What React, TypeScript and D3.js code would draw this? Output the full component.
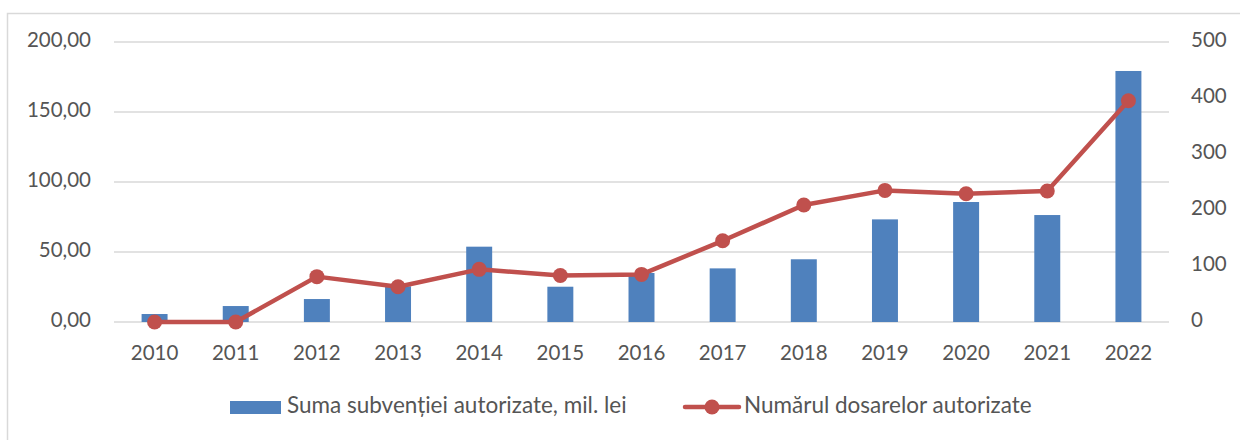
import React, { useEffect, useRef } from 'react';
import * as d3 from 'd3';

const years = ['2010', '2011', '2012', '2013', '2014', '2015', '2016', '2017', '2018', '2019', '2020', '2021', '2022'];
const subventie = [5.7, 11.4, 16.4, 25.5, 53.8, 25.2, 35.0, 38.3, 44.8, 73.3, 85.7, 76.4, 179.3];
const dosare = [0, 0, 81, 63, 94, 83, 85, 145, 209, 235, 229, 234, 395];
const leftTicks = [0, 50, 100, 150, 200];
const rightTicks = [0, 100, 200, 300, 400, 500];
const legendBar = 'Suma subvenției autorizate, mil. lei';
const legendLine = 'Numărul dosarelor autorizate';

const W = 1240;
const H = 440;
const FONT = 'Lato, "Open Sans", sans-serif';
const TEXT = '#555555';
const BLUE = '#4f81bd';
const RED = '#c0504d';
const GRID = '#d9d9d9';

export default function App() {
  const ref = useRef<SVGSVGElement>(null);

  useEffect(() => {
    const svg = d3.select(ref.current);
    svg.selectAll('*').remove();

    const x0 = 114, x1 = 1169, yTop = 42, yBot = 322;

    const x = d3.scaleBand<string>().domain(years).range([x0, x1]).paddingInner(0.68).paddingOuter(0.34);
    const yL = d3.scaleLinear().domain([0, 200]).range([yBot, yTop]);
    const yR = d3.scaleLinear().domain([0, 500]).range([yBot, yTop]);
    const cx = (d: string) => (x(d) ?? 0) + x.bandwidth() / 2;

    // chart frame
    svg.append('rect')
      .attr('x', 7.5).attr('y', 13.5)
      .attr('width', W).attr('height', H)
      .attr('fill', '#fff').attr('stroke', GRID).attr('stroke-width', 1.5);

    // gridlines
    svg.append('g')
      .selectAll('line')
      .data(leftTicks)
      .join('line')
      .attr('x1', x0).attr('x2', x1)
      .attr('y1', d => yL(d)).attr('y2', d => yL(d))
      .attr('stroke', GRID).attr('stroke-width', 1.5);

    // left axis labels
    svg.append('g')
      .selectAll('text')
      .data(leftTicks)
      .join('text')
      .attr('x', 91).attr('y', d => yL(d))
      .attr('text-anchor', 'end').attr('dominant-baseline', 'middle')
      .attr('font-family', FONT).attr('font-size', 20.5).attr('fill', TEXT)
      .text(d => d3.format('.2f')(d).replace('.', ','));

    // right axis labels
    svg.append('g')
      .selectAll('text')
      .data(rightTicks)
      .join('text')
      .attr('x', 1191).attr('y', d => yR(d))
      .attr('text-anchor', 'start').attr('dominant-baseline', 'middle')
      .attr('font-family', FONT).attr('font-size', 20.5).attr('fill', TEXT)
      .text(d => String(d));

    // category labels
    svg.append('g')
      .selectAll('text')
      .data(years)
      .join('text')
      .attr('x', d => cx(d)).attr('y', 355)
      .attr('text-anchor', 'middle').attr('dominant-baseline', 'middle')
      .attr('font-family', FONT).attr('font-size', 20.5).attr('fill', TEXT)
      .text(d => d);

    // bars
    svg.append('g')
      .selectAll('rect')
      .data(subventie)
      .join('rect')
      .attr('x', (_, i) => x(years[i]) ?? 0)
      .attr('width', x.bandwidth())
      .attr('y', d => yL(d))
      .attr('height', d => yBot - yL(d))
      .attr('fill', BLUE);

    // line
    const line = d3.line<number>()
      .x((_, i) => cx(years[i]))
      .y(d => yR(d));
    svg.append('path')
      .datum(dosare)
      .attr('d', line)
      .attr('fill', 'none')
      .attr('stroke', RED)
      .attr('stroke-width', 4.5)
      .attr('stroke-linejoin', 'round')
      .attr('stroke-linecap', 'round');

    svg.append('g')
      .selectAll('circle')
      .data(dosare)
      .join('circle')
      .attr('cx', (_, i) => cx(years[i]))
      .attr('cy', d => yR(d))
      .attr('r', 7.5)
      .attr('fill', RED);

    // legend
    const ly = 407;
    svg.append('rect')
      .attr('x', 230).attr('y', 401).attr('width', 51).attr('height', 13)
      .attr('fill', BLUE);
    svg.append('text')
      .attr('x', 287).attr('y', ly)
      .attr('dominant-baseline', 'middle')
      .attr('font-family', FONT).attr('font-size', 22.5).attr('fill', TEXT)
      .text(legendBar);

    svg.append('line')
      .attr('x1', 685).attr('x2', 739).attr('y1', ly).attr('y2', ly)
      .attr('stroke', RED).attr('stroke-width', 4.5).attr('stroke-linecap', 'round');
    svg.append('circle')
      .attr('cx', 712).attr('cy', ly).attr('r', 7.5).attr('fill', RED);
    svg.append('text')
      .attr('x', 744).attr('y', ly)
      .attr('dominant-baseline', 'middle')
      .attr('font-family', FONT).attr('font-size', 22.5).attr('fill', TEXT)
      .text(legendLine);
  }, []);

  return (
    <svg
      ref={ref}
      width={W}
      height={H}
      style={{ position: 'absolute', left: 0, top: 0, background: '#fff' }}
    />
  );
}
